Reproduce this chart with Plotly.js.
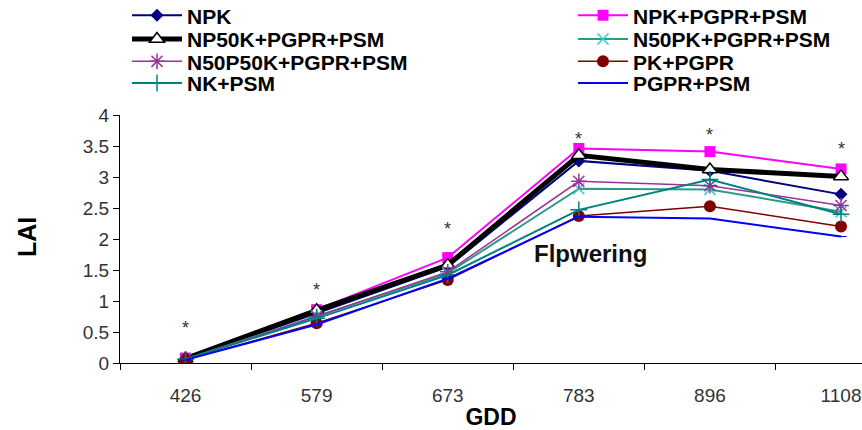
<!DOCTYPE html>
<html><head><meta charset="utf-8">
<script src="https://cdn.plot.ly/plotly-3.0.1.min.js"></script>
<style>html,body{margin:0;padding:0;background:#fff;}#chart{width:862px;height:430px;}</style>
</head><body><div id="chart"></div>
<script>
const categories = ["426","579","673","783","896","1108"];
const seriesNames = ["NPK","NPK+PGPR+PSM","NP50K+PGPR+PSM","N50PK+PGPR+PSM","N50P50K+PGPR+PSM","PK+PGPR","NK+PSM","PGPR+PSM"];
const NPK          = [0.07, 0.80, 1.55, 3.26, 3.10, 2.72];
const NPK_PGPR_PSM = [0.08, 0.86, 1.70, 3.46, 3.41, 3.13];
const NP50K_PGPR_PSM = [0.07, 0.85, 1.58, 3.35, 3.12, 3.01];
const N50PK_PGPR_PSM = [0.06, 0.76, 1.45, 2.81, 2.80, 2.44];
const N50P50K_PGPR_PSM = [0.06, 0.75, 1.47, 2.93, 2.86, 2.54];
const PK_PGPR      = [0.05, 0.64, 1.34, 2.37, 2.53, 2.20];
const NK_PSM       = [0.06, 0.72, 1.42, 2.47, 2.96, 2.40];
const PGPR_PSM     = [0.05, 0.62, 1.36, 2.36, 2.33, 2.04];
const starLevels   = [0.63, 1.25, 2.22, 3.67, 3.75, 3.51];
const yTicks = [0,0.5,1,1.5,2,2.5,3,3.5,4];

const values = [NPK, NPK_PGPR_PSM, NP50K_PGPR_PSM, N50PK_PGPR_PSM, N50P50K_PGPR_PSM, PK_PGPR, NK_PSM, PGPR_PSM];
const styles = [
  {line:{color:'#000080',width:2}, marker:{symbol:'diamond',size:10,color:'#000080'}},
  {line:{color:'#FF00FF',width:2}, marker:{symbol:'square',size:11,color:'#FF00FF'}},
  {line:{color:'#000000',width:5}, marker:{symbol:'triangle-up',size:13,color:'#ffffff',line:{color:'#000000',width:1.5}}},
  {line:{color:'#2E9A85',width:2}, marker:{symbol:'x-thin-open',size:11,color:'#33CCCC',line:{color:'#33CCCC',width:1.5}}},
  {line:{color:'#993399',width:1.5}, marker:{symbol:'asterisk-open',size:13,color:'#993399',line:{color:'#993399',width:1.5}}},
  {line:{color:'#800000',width:1.5}, marker:{symbol:'circle',size:12,color:'#800000'}},
  {line:{color:'#008080',width:2}, marker:{symbol:'cross-thin-open',size:12,color:'#008080',line:{color:'#008080',width:1.5}}},
  {line:{color:'#0000FF',width:2}, marker:{symbol:'line-ew-open',size:8,color:'#0000FF',line:{color:'#0000FF',width:1}}}
];

const legendId = i => (i === 0 ? 'legend' : 'legend' + (i + 1));

const traces = seriesNames.map((n,i)=>({
  type:'scatter', mode:'lines+markers', name:n,
  x: categories, y: values[i],
  legend: legendId(i),
  line: styles[i].line, marker: styles[i].marker
}));

const FONT = 'Liberation Sans, Arial, sans-serif';
const annotations = categories.map((c,i)=>({
  x:i, y:starLevels[i], xref:'x', yref:'y', text:'*', showarrow:false,
  font:{family:FONT, size:18, color:'#333'}, yshift:-4
}));
annotations.push({
  x:3.09, y:1.77, xref:'x', yref:'y', text:'<b>Flpwering</b>', showarrow:false,
  font:{family:FONT, size:24, color:'#111'}
});
annotations.push({
  x:(27-120)/742, y:(363-237)/248, xref:'paper', yref:'paper', text:'<b>LAI</b>', showarrow:false, textangle:-90,
  xanchor:'center', yanchor:'middle', font:{family:FONT, size:25, color:'#000'}
});

const legendFont = {family:FONT, size:21, color:'#000', weight:'bold'};
const rowY = [15.7, 39.3, 61.7, 83.3];
const colX = [127, 573];

const layout = {
  width:862, height:430,
  margin:{l:120, r:0, t:115, b:67, autoexpand:false},
  paper_bgcolor:'#fff', plot_bgcolor:'#fff',
  showlegend:true,
  xaxis:{type:'category', range:[-0.5,5.16], tickson:'boundaries', ticks:'outside', ticklen:6, tickcolor:'#000',
    showline:true, linecolor:'#000', linewidth:1, showgrid:false, zeroline:false, ticklabelstandoff:15,
    tickangle:0, automargin:false,
    tickfont:{family:FONT, size:19, color:'#333'},
    title:{text:'<b>GDD</b>', standoff:6, font:{family:FONT, size:23, color:'#000'}}},
  yaxis:{range:[0,4], tickvals:yTicks, ticks:'outside', ticklen:6, tickcolor:'#000',
    showline:true, linecolor:'#000', linewidth:1, showgrid:false, zeroline:false, automargin:false,
    tickfont:{family:FONT, size:19, color:'#333'}},
  annotations: annotations
};
seriesNames.forEach((n,i)=>{
  const row = Math.floor(i/2), col = i % 2;
  layout[legendId(i)] = {
    orientation:'v', xref:'container', yref:'container',
    x: colX[col]/862, y: 1 - rowY[row]/430, xanchor:'left', yanchor:'middle',
    itemwidth:50, tracegroupgap:0, font:legendFont, bgcolor:'rgba(0,0,0,0)', borderwidth:0
  };
});
Plotly.newPlot('chart', traces, layout, {displayModeBar:false, staticPlot:true});
</script></body></html>
